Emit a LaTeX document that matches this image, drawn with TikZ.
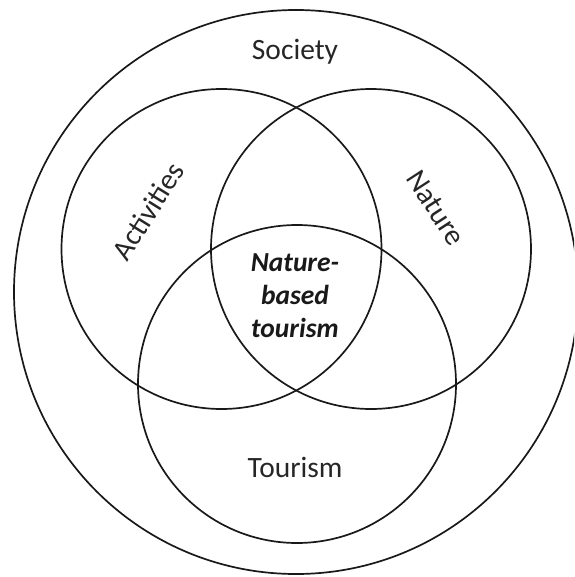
\documentclass[tikz,border=0pt]{standalone}
\usepackage{fontspec}
\setmainfont{Carlito}
\begin{document}
\begin{tikzpicture}[x=1pt,y=-1pt,
  ring/.style={draw=black!90,line width=1.7pt},
  lbl/.style={font=\fontsize{29.5}{33}\selectfont,text=black!85,inner sep=0pt},
  core/.style={font=\fontsize{27.5}{33}\selectfont\bfseries\itshape,text=black!90,align=center,inner sep=0pt}]
\path[use as bounding box] (0,0) rectangle (574,577);
\begin{scope}
\clip (0,0) rectangle (574,577);
\draw[ring] (296,292) circle[radius=282];
\end{scope}
\draw[ring] (221.5,249) circle[radius=160];
\draw[ring] (371,249) circle[radius=160];
\draw[ring] (297,384) circle[radius=159];
\node[lbl] (society) at (295,52) {Society};
\node[lbl] (tourism) at (295,467) {Tourism};
\node[lbl,rotate=58] (activities) at (148,211) {Activities};
\node[lbl,rotate=-57] (nature) at (436,208) {Nature};
\node[core] (nbt) at (295,296) {Nature-\\based\\tourism};
\end{tikzpicture}
\end{document}
